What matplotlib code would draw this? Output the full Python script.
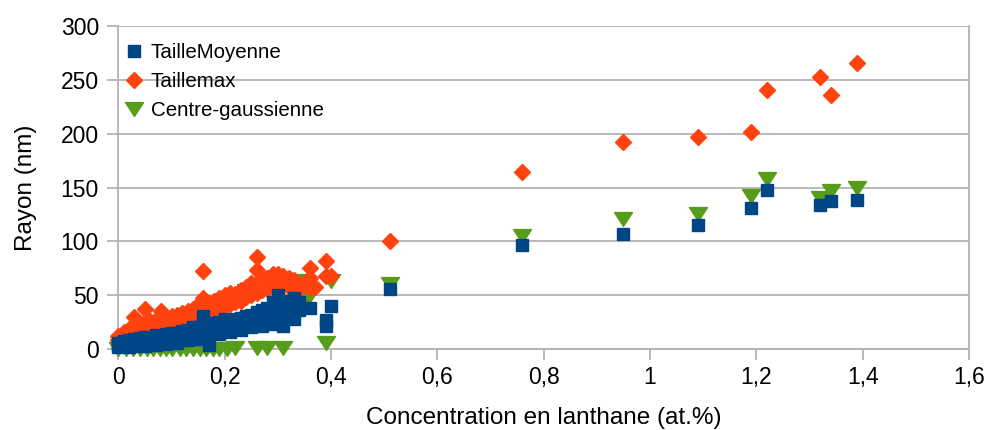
import numpy as np
import matplotlib.pyplot as plt
from matplotlib.path import Path

plt.rcParams['font.family'] = ['Liberation Sans', 'DejaVu Sans']

# --- data ---
moy_x = [0, 0, 0, 0.01, 0.01, 0.02, 0.02, 0.02, 0.03, 0.03, 0.04, 0.04, 0.04,
         0.05, 0.05, 0.05, 0.06, 0.06, 0.07, 0.07, 0.07, 0.08, 0.08, 0.09, 0.09, 0.09,
         0.10, 0.10, 0.10, 0.11, 0.11, 0.12, 0.12, 0.12, 0.13, 0.13, 0.13,
         0.14, 0.14, 0.14, 0.15, 0.15, 0.16, 0.16, 0.16, 0.17, 0.17, 0.17,
         0.18, 0.18, 0.19, 0.19, 0.20, 0.20, 0.20, 0.21, 0.21, 0.22, 0.22,
         0.23, 0.23, 0.24, 0.24, 0.25, 0.25, 0.26, 0.26, 0.27, 0.27, 0.27,
         0.28, 0.28, 0.29, 0.29, 0.29, 0.30, 0.30, 0.30, 0.31, 0.31, 0.31,
         0.32, 0.32, 0.33, 0.33, 0.34, 0.34, 0.36, 0.39, 0.39, 0.40,
         0.51, 0.76, 0.95, 1.09, 1.19, 1.22, 1.32, 1.34, 1.39]
moy_y = [2, 4, 6, 3, 7, 2, 5, 8, 3, 9, 4, 8, 10,
         3, 6, 11, 5, 10, 4, 8, 13, 6, 12, 5, 9, 14,
         7, 12, 15, 6, 15, 8, 13, 17, 8, 12, 18,
         9, 15, 20, 10, 20, 9, 21, 31, 4, 13, 22,
         15, 24, 14, 25, 17, 24, 28, 16, 27, 19, 28,
         18, 29, 21, 31, 20, 32, 23, 34, 21, 30, 36,
         24, 38, 23, 33, 44, 25, 40, 50, 21, 35, 45,
         30, 42, 28, 47, 36, 44, 38, 21, 27, 40,
         56, 97, 107, 115, 131, 148, 134, 137, 138]

max_x = [0, 0, 0.01, 0.01, 0.02, 0.02, 0.03, 0.03, 0.03, 0.04, 0.04,
         0.05, 0.05, 0.05, 0.06, 0.06, 0.07, 0.07, 0.08, 0.08, 0.09, 0.09,
         0.10, 0.10, 0.11, 0.11, 0.12, 0.12, 0.13, 0.13, 0.14, 0.14,
         0.15, 0.15, 0.16, 0.16, 0.16, 0.17, 0.17, 0.18, 0.18, 0.19, 0.19,
         0.20, 0.20, 0.21, 0.21, 0.22, 0.22, 0.23, 0.23, 0.24, 0.24,
         0.25, 0.25, 0.26, 0.26, 0.26, 0.27, 0.27, 0.28, 0.28, 0.29, 0.29,
         0.30, 0.30, 0.30, 0.31, 0.31, 0.32, 0.32, 0.33, 0.33, 0.34, 0.34,
         0.36, 0.36, 0.36, 0.37, 0.39, 0.39, 0.40,
         0.51, 0.76, 0.95, 1.09, 1.19, 1.22, 1.32, 1.34, 1.39]
max_y = [8, 12, 10, 16, 12, 19, 14, 22, 30, 15, 21,
         16, 25, 37, 18, 26, 19, 27, 20, 35, 20, 29,
         22, 31, 23, 32, 25, 33, 27, 35, 28, 37,
         30, 41, 32, 47, 72, 34, 43, 36, 45, 38, 47,
         40, 50, 42, 52, 44, 51, 45, 55, 48, 58,
         50, 61, 52, 73, 85, 55, 66, 56, 66, 58, 70,
         55, 62, 70, 60, 68, 58, 66, 56, 64, 55, 60,
         57, 66, 75, 58, 68, 82, 68,
         100, 164, 192, 197, 202, 241, 253, 236, 266]

gauss_x = [0, 0.015, 0.027, 0.04, 0.053, 0.065, 0.078, 0.09, 0.10, 0.115,
           0.128, 0.14, 0.153, 0.165, 0.178, 0.19, 0.205, 0.22, 0.26, 0.28,
           0.31, 0.39, 0.24, 0.30, 0.34, 0.35, 0.35, 0.36, 0.40,
           0.51, 0.76, 0.95, 1.09, 1.19, 1.22, 1.32, 1.34, 1.39]
gauss_y = [0, 0, 0, 0, 0, 0, 0, 0, 0, 0,
           0, 0, 0, 0, 0, 0, 0, 1, 1, 1,
           1, 6, 54, 60, 55, 63, 45, 50, 63,
           60, 105, 121, 125, 142, 158, 140, 147, 150]

BLUE = "#004586"
ORANGE = "#ff420e"
GREEN = "#579d1c"
GRID = "#b3b3b3"

# wide downward triangle like the original
tri = Path([(-1.3, 1), (1.3, 1), (0, -1), (-1.3, 1)],
           [Path.MOVETO, Path.LINETO, Path.LINETO, Path.CLOSEPOLY])

fig = plt.figure(figsize=(9.87, 4.30), dpi=100)
ax = fig.add_axes([0.12, 0.1884, 0.8617, 0.7511])

ax.plot(gauss_x, gauss_y, ls="none", marker=tri, ms=13, color=GREEN,
        mec=GREEN, label="Centre-gaussienne", zorder=3, clip_on=False)
ax.plot(max_x, max_y, ls="none", marker="D", ms=8.5, color=ORANGE,
        mec=ORANGE, label="Taillemax", zorder=4, clip_on=False)
ax.plot(moy_x, moy_y, ls="none", marker="s", ms=8, color=BLUE,
        mec=BLUE, label="TailleMoyenne", zorder=5, clip_on=False)

ax.set_xlim(0, 1.6)
ax.set_ylim(0, 300)
ax.set_xticks(np.arange(0, 1.61, 0.2))
ax.set_xticklabels(["0", "0,2", "0,4", "0,6", "0,8", "1", "1,2", "1,4", "1,6"])
ax.set_yticks(range(0, 301, 50))

ax.yaxis.grid(True, color=GRID, lw=1.3)
ax.set_axisbelow(True)
for s in ["left", "bottom", "right"]:
    ax.spines[s].set_color(GRID)
    ax.spines[s].set_linewidth(1.3)
ax.spines["top"].set_visible(False)
ax.tick_params(axis="both", color=GRID, width=1.3, length=8, labelsize=16.5,
               pad=4)
ax.tick_params(axis="y", pad=6)

ax.set_xlabel("Concentration en lanthane (at.%)", fontsize=17.5, labelpad=13)
ax.set_ylabel("Rayon (nm)", fontsize=17.5, labelpad=17)

h, l = ax.get_legend_handles_labels()
ax.legend(h[::-1], l[::-1], loc="upper left", bbox_to_anchor=(0.008, 0.948),
          frameon=False, fontsize=14.8, handlelength=0.9, handletextpad=0.35,
          labelspacing=0.5, borderaxespad=0, borderpad=0)

plt.savefig("out.png", dpi=100)
